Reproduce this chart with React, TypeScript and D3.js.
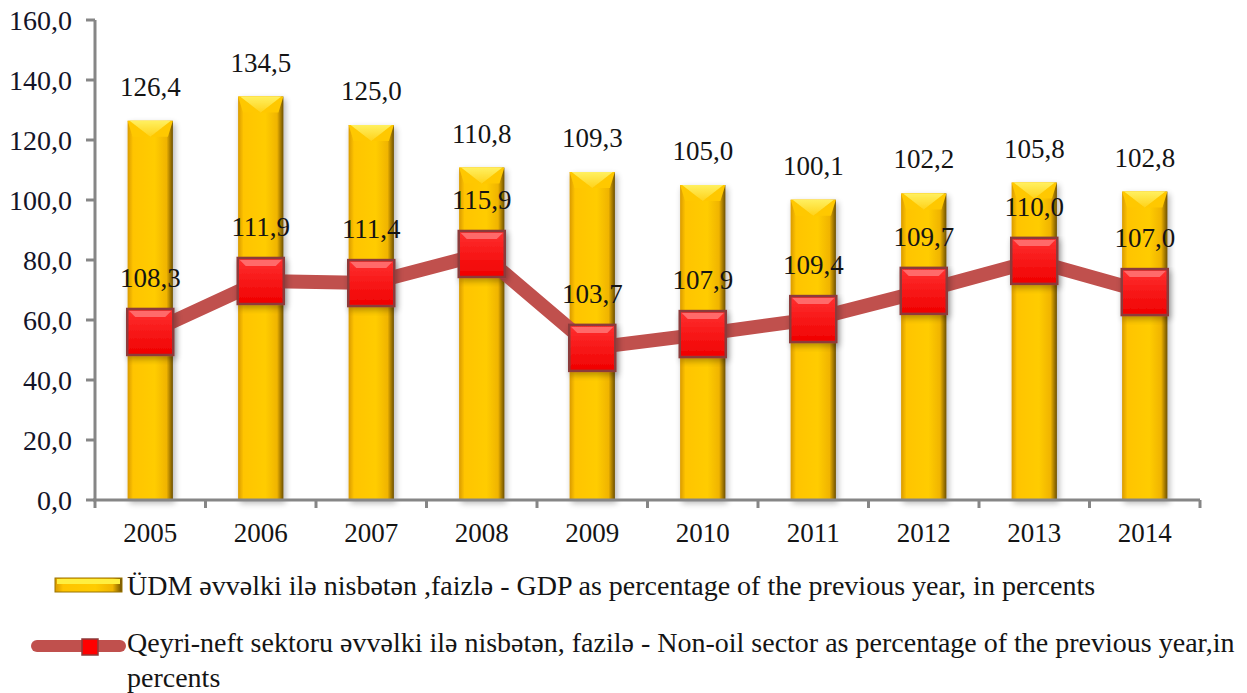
import React from 'react';
import * as d3 from 'd3';

const years = ['2005', '2006', '2007', '2008', '2009', '2010', '2011', '2012', '2013', '2014'];
// GDP as % of previous year (bars)
const gdpValues = [126.4, 134.5, 125.0, 110.8, 109.3, 105.0, 100.1, 102.2, 105.8, 102.8];
// Non-oil sector, labels as printed
const nonOilLabels = [108.3, 111.9, 111.4, 115.9, 103.7, 107.9, 109.4, 109.7, 110.0, 107.0];
// where the non-oil markers sit against the left axis
const nonOilPlot = [56, 73, 72.3, 82, 50.7, 55.3, 60.3, 69.7, 79.7, 69.3];
const yTicks = [0, 20, 40, 60, 80, 100, 120, 140, 160];

const legendGdp = 'ÜDM əvvəlki ilə nisbətən ,faizlə - GDP as percentage of the previous year, in percents';
const legendNonOil1 = 'Qeyri-neft sektoru əvvəlki ilə nisbətən, fazilə - Non-oil sector as percentage of the previous year,in';
const legendNonOil2 = 'percents';

const W = 1247;
const H = 693;
const FONT = '"Liberation Serif", "DejaVu Serif", "Times New Roman", serif';

const fmt = (v: number) => d3.format('.1f')(v).replace('.', ',');

export default function App() {
  const x = d3.scaleBand<string>().domain(years).range([95, 1200]).padding(0);
  const y = d3.scaleLinear().domain([0, 160]).range([500, 20]);
  const barW = x.bandwidth() * 0.41;
  const mk = 46;

  const cx = (yr: string) => (x(yr) as number) + x.bandwidth() / 2;

  const line = d3
    .line<number>()
    .x((_, i) => cx(years[i]))
    .y((d) => y(d));

  return (
    <svg
      width={W}
      height={H}
      style={{ position: 'absolute', left: 0, top: 0, background: '#fff' }}
      fontFamily={FONT}
    >
      <defs>
        <linearGradient id="barGrad" x1="0" x2="1" y1="0" y2="0">
          <stop offset="0%" stopColor="#D99A00" />
          <stop offset="12%" stopColor="#FFC400" />
          <stop offset="60%" stopColor="#FFCC00" />
          <stop offset="86%" stopColor="#F0B400" />
          <stop offset="100%" stopColor="#6E5000" />
        </linearGradient>
        <linearGradient id="barTop" x1="0" x2="0" y1="0" y2="1">
          <stop offset="0%" stopColor="#FFF060" />
          <stop offset="100%" stopColor="#FFD21A" />
        </linearGradient>
        <linearGradient id="mkGrad" x1="0" x2="0" y1="0" y2="1">
          <stop offset="0%" stopColor="#FF3030" />
          <stop offset="100%" stopColor="#F00000" />
        </linearGradient>
        <filter id="shadow" x="-30%" y="-10%" width="160%" height="130%">
          <feGaussianBlur in="SourceAlpha" stdDeviation="3" />
          <feOffset dx="2" dy="3" result="ob" />
          <feComponentTransfer>
            <feFuncA type="linear" slope="0.3" />
          </feComponentTransfer>
          <feMerge>
            <feMergeNode />
            <feMergeNode in="SourceGraphic" />
          </feMerge>
        </filter>
      </defs>

      {/* bars */}
      {gdpValues.map((v, i) => {
        const x0 = cx(years[i]) - barW / 2;
        const top = y(v);
        return (
          <g key={'b' + i} filter="url(#shadow)">
            <rect x={x0} y={top} width={barW} height={y(0) - top} fill="url(#barGrad)" />
            <polygon
              points={`${x0},${top} ${x0 + barW},${top} ${x0 + barW - 5},${top + 16} ${x0 + 5},${top + 16}`}
              fill="#FFC800"
            />
            <polygon
              points={`${x0 + 2},${top} ${x0 + barW - 2},${top} ${x0 + barW / 2},${top + 16}`}
              fill="url(#barTop)"
            />
          </g>
        );
      })}

      {/* axes */}
      <g stroke="#868686" strokeWidth={3} fill="none">
        <line x1={95} x2={95} y1={y(160)} y2={y(0)} />
        <line x1={93} x2={1200} y1={y(0)} y2={y(0)} />
        {yTicks.map((t) => (
          <line key={'yt' + t} x1={86} x2={95} y1={y(t)} y2={y(t)} />
        ))}
        {[...years.map((yr) => x(yr) as number), 1200].map((p, i) => (
          <line key={'xt' + i} x1={p} x2={p} y1={y(0)} y2={y(0) + 8} />
        ))}
      </g>

      {yTicks.map((t) => (
        <text key={'yl' + t} x={72} y={y(t)} dy="0.35em" textAnchor="end" fontSize={28} fill="#141428">
          {fmt(t)}
        </text>
      ))}
      {years.map((yr) => (
        <text key={'xl' + yr} x={cx(yr)} y={542} textAnchor="middle" fontSize={27} fill="#141414">
          {yr}
        </text>
      ))}

      {/* bar value labels */}
      {gdpValues.map((v, i) => (
        <text key={'bl' + i} x={cx(years[i])} y={y(v) - 25} textAnchor="middle" fontSize={27} fill="#141414">
          {fmt(v)}
        </text>
      ))}

      {/* non-oil line */}
      <path d={line(nonOilPlot) || ''} fill="none" stroke="#C0504D" strokeWidth={14} strokeLinejoin="round" />
      {nonOilPlot.map((v, i) => {
        const c = cx(years[i]);
        const m = y(v);
        return (
          <g key={'m' + i} filter="url(#shadow)">
            <rect x={c - mk / 2} y={m - mk / 2} width={mk} height={mk} fill="url(#mkGrad)" stroke="#8C3B3B" strokeWidth={2.5} />
            <polygon
              points={`${c - mk / 2 + 2},${m - mk / 2 + 2} ${c + mk / 2 - 2},${m - mk / 2 + 2} ${c + mk / 2 - 8},${m - mk / 2 + 8} ${c - mk / 2 + 8},${m - mk / 2 + 8}`}
              fill="#FF6A6A"
            />
          </g>
        );
      })}
      {nonOilLabels.map((v, i) => (
        <text key={'nl' + i} x={cx(years[i])} y={y(nonOilPlot[i]) - 45} textAnchor="middle" fontSize={27} fill="#141414">
          {fmt(v)}
        </text>
      ))}

      {/* legend */}
      <g>
        <rect x={55} y={578} width={67} height={14} fill="url(#barGrad)" stroke="#9A7400" strokeWidth={1} />
        <rect x={57} y={579} width={63} height={5} fill="#FFEF40" />
        <text x={127} y={595} fontSize={28} fill="#141414">{legendGdp}</text>

        <line x1={37} x2={120} y1={646} y2={646} stroke="#C0504D" strokeWidth={12} strokeLinecap="round" />
        <rect x={82} y={639} width={16} height={16} fill="#FF0000" stroke="#8C3B3B" strokeWidth={1.5} />
        <text x={127} y={652} fontSize={28} fill="#141414">{legendNonOil1}</text>
        <text x={127} y={687} fontSize={28} fill="#141414">{legendNonOil2}</text>
      </g>
    </svg>
  );
}
